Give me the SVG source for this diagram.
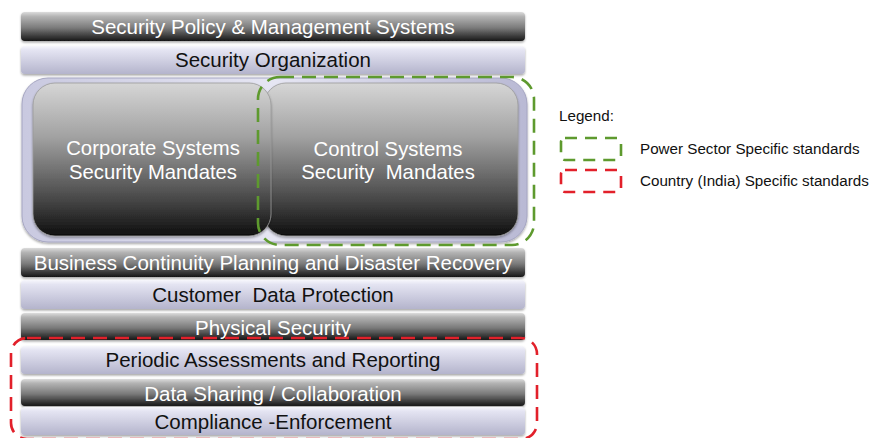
<svg xmlns="http://www.w3.org/2000/svg" width="871" height="438" viewBox="0 0 871 438">
  <defs>
    <linearGradient id="gDark" x1="0" y1="0" x2="0" y2="1">
      <stop offset="0" stop-color="#dcdcdc"/>
      <stop offset="0.15" stop-color="#b4b4b4"/>
      <stop offset="0.55" stop-color="#7a7a7a"/>
      <stop offset="1" stop-color="#161616"/>
    </linearGradient>
    <linearGradient id="gLight" x1="0" y1="0" x2="0" y2="1">
      <stop offset="0" stop-color="#f7f7fc"/>
      <stop offset="0.15" stop-color="#e4e4f2"/>
      <stop offset="1" stop-color="#b4b4cc"/>
    </linearGradient>
    <linearGradient id="gBox" x1="0" y1="0" x2="0" y2="1">
      <stop offset="0" stop-color="#d6d6d6"/>
      <stop offset="0.35" stop-color="#a2a2a2"/>
      <stop offset="0.75" stop-color="#4a4a4a"/>
      <stop offset="1" stop-color="#0e0e0e"/>
    </linearGradient>
    <linearGradient id="gFrame" x1="0" y1="0" x2="1" y2="0">
      <stop offset="0" stop-color="#c9c9e0"/>
      <stop offset="0.5" stop-color="#e6e6f3"/>
      <stop offset="1" stop-color="#b9b9d4"/>
    </linearGradient>
    <filter id="shadow" x="-5%" y="-20%" width="110%" height="150%">
      <feDropShadow dx="0" dy="1.5" stdDeviation="1.2" flood-color="#000" flood-opacity="0.35"/>
    </filter>
  </defs>
  <style>
    .dark { fill: url(#gDark); filter: url(#shadow); }
    .light { fill: url(#gLight); filter: url(#shadow); }
    .box { fill: url(#gBox); stroke: #9a9a9a; stroke-width: 0.8; filter: url(#shadow); }
    text { white-space: pre; }
    .t { font-family: "Liberation Sans", Arial, sans-serif; font-size: 20.5px; text-anchor: middle; }
    .tw { fill: #ffffff; }
    .tb { fill: #111111; }
    .tm { font-family: "Liberation Sans", Arial, sans-serif; font-size: 20.3px; text-anchor: middle; fill: #ffffff; }
    .lg { font-family: "Liberation Sans", Arial, sans-serif; font-size: 15.2px; fill: #111111; }
    .green { fill: none; stroke: #5e9a2e; stroke-width: 2.6; stroke-dasharray: 14 8; }
    .red { fill: none; stroke: #e2202a; stroke-width: 2.6; stroke-dasharray: 14 8; }
  </style>

  <g id="policy">
    <rect class="dark" x="21" y="12" width="504" height="29" rx="4"/>
    <text class="t tw" x="273" y="34">Security Policy &amp; Management Systems</text>
  </g>
  <g id="organization">
    <rect class="light" x="21" y="46" width="504" height="28" rx="4"/>
    <text class="t tb" x="273" y="67">Security Organization</text>
  </g>

  <g id="mandates-frame">
    <rect x="22" y="78" width="505" height="164" rx="26" fill="url(#gFrame)" stroke="#a6a6c2" stroke-width="1" filter="url(#shadow)"/>
  </g>
  <g id="control-systems">
    <rect class="box" x="264" y="83" width="254" height="153" rx="22"/>
    <text class="tm" x="388" y="156">Control Systems</text>
    <text class="tm" x="388" y="179">Security  Mandates</text>
  </g>
  <g id="corporate-systems">
    <rect class="box" x="33" y="83" width="238" height="153" rx="22"/>
    <text class="tm" x="153" y="155">Corporate Systems</text>
    <text class="tm" x="153" y="179">Security Mandates</text>
  </g>

  <g id="bcp">
    <rect class="dark" x="21" y="248" width="504" height="29" rx="4"/>
    <text class="t tw" x="273" y="270">Business Continuity Planning and Disaster Recovery</text>
  </g>
  <g id="customer-data">
    <rect class="light" x="21" y="280" width="504" height="29" rx="4"/>
    <text class="t tb" x="273" y="302">Customer  Data Protection</text>
  </g>
  <g id="physical">
    <rect class="dark" x="21" y="313" width="504" height="27" rx="4"/>
    <text class="t tw" x="273" y="335">Physical Security</text>
  </g>
  <g id="assessments">
    <rect class="light" x="21" y="346" width="504" height="28" rx="4"/>
    <text class="t tb" x="273" y="367">Periodic Assessments and Reporting</text>
  </g>
  <g id="data-sharing">
    <rect class="dark" x="21" y="379" width="504" height="27" rx="4"/>
    <text class="t tw" x="273" y="401">Data Sharing / Collaboration</text>
  </g>
  <g id="compliance">
    <rect class="light" x="21" y="407" width="504" height="28" rx="4"/>
    <text class="t tb" x="273" y="429">Compliance -Enforcement</text>
  </g>

  <!-- scope outlines -->
  <g id="connectors">
    <rect class="green" x="258" y="77" width="276" height="168" rx="22"/>
    <rect class="red" x="11" y="338" width="526" height="101" rx="16"/>
  </g>

  <g id="legend">
    <text class="lg" x="559" y="121">Legend:</text>
    <rect class="green" x="561" y="138" width="60" height="22" rx="4" style="stroke-dasharray: 12 8"/>
    <text class="lg" x="640" y="154">Power Sector Specific standards</text>
    <rect class="red" x="561" y="170" width="60" height="22" rx="4" style="stroke-dasharray: 12 8"/>
    <text class="lg" x="640" y="186">Country (India) Specific standards</text>
  </g>
</svg>
